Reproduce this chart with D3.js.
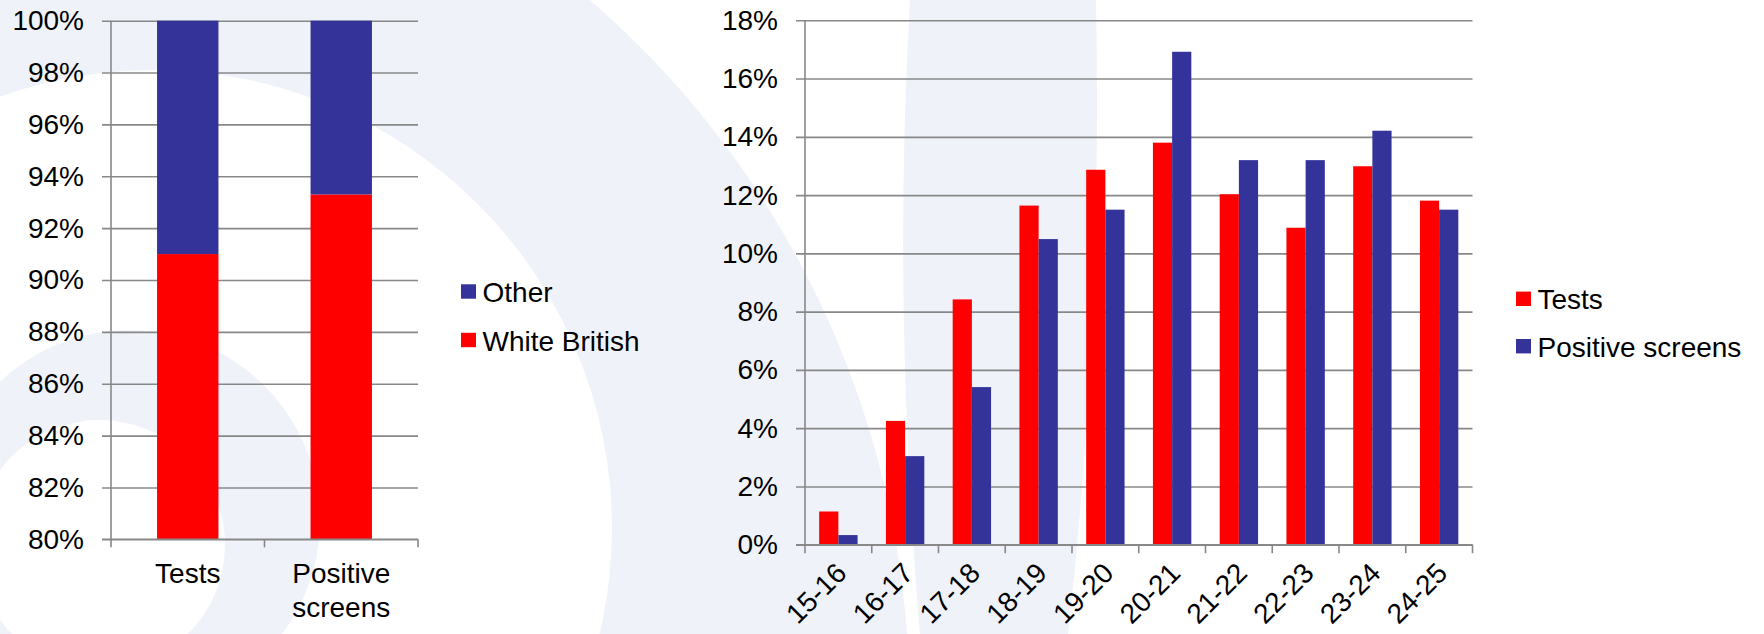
<!DOCTYPE html>
<html>
<head>
<meta charset="utf-8">
<script src="https://cdn.jsdelivr.net/npm/d3@7/dist/d3.min.js"></script>
<style>
  html, body { margin: 0; padding: 0; background: #ffffff; }
  svg { display: block; font-family: "Liberation Sans", Arial, sans-serif; }
</style>
</head>
<body>
<svg id="chart" width="1764" height="634"></svg>
<script>
// ---- Ethnicity split (stacked 100% columns) ----
const ethnicCategories = ["Tests", "Positive screens"];
const whiteBritish = [91.0, 93.3];
const otherEthnic = [9.0, 6.7];
const ethnicSeries = ["Other", "White British"];
const ethnicTicks = [80, 82, 84, 86, 88, 90, 92, 94, 96, 98, 100];

// ---- Age distribution (clustered columns) ----
const ageGroups = ["15-16", "16-17", "17-18", "18-19", "19-20", "20-21", "21-22", "22-23", "23-24", "24-25"];
const testsPct = [1.14, 4.25, 8.42, 11.64, 12.87, 13.80, 12.03, 10.88, 12.99, 11.81];
const positivePct = [0.33, 3.04, 5.41, 10.49, 11.50, 16.92, 13.20, 13.20, 14.21, 11.50];
const ageSeries = ["Tests", "Positive screens"];
const ageTicks = [0, 2, 4, 6, 8, 10, 12, 14, 16, 18];

const RED = "#ff0000";
const BLUE = "#333399";
const GRID = "#888888";
const TINT = "#eff2f9";
const FONT = 28;

const svg = d3.select("#chart");

// ---- decorative background swooshes ----
const circ = (cx, cy, r) => `M${cx - r},${cy}a${r},${r} 0 1,0 ${2 * r},0a${r},${r} 0 1,0 ${-2 * r},0Z`;
const bg = svg.append("g");
bg.append("path").attr("d", circ(-14.5, 698.5, 923.7) + circ(154, 528, 458))
  .attr("fill", TINT).attr("fill-rule", "evenodd");
bg.append("path").attr("d", circ(130, 520, 190) + circ(100, 545, 125))
  .attr("fill", TINT).attr("fill-rule", "evenodd");
bg.append("path").attr("d", "M910,0 C898,210 902,420 920,634 L1068,634 C1092,420 1100,210 1096,0 Z")
  .attr("fill", TINT);

// helper: legend block
function legend(x, y0, step, items) {
  const g = svg.append("g").attr("transform", `translate(${x},${y0})`);
  const row = g.selectAll("g").data(items).join("g")
    .attr("transform", (d, i) => `translate(0,${i * step})`);
  row.append("rect").attr("x", 0).attr("y", -17.7).attr("width", 15).attr("height", 14.4)
    .attr("fill", d => d.color);
  row.append("text").attr("x", 21.5).attr("y", 0).attr("font-size", FONT).attr("fill", "#000")
    .text(d => d.name);
}

// =================== LEFT CHART ===================
{
  const x0 = 111, x1 = 418, yTop = 20.7, yBot = 539.3;
  const x = d3.scaleBand().domain(ethnicCategories).range([x0, x1]).paddingInner(0.6).paddingOuter(0.3);
  const y = d3.scaleLinear().domain([80, 100]).range([yBot, yTop]);

  // gridlines + tick labels
  const yAxis = d3.axisLeft(y).tickValues(ethnicTicks).tickFormat(d => d + "%")
    .tickSizeInner(-(x1 - x0 + 9)).tickSizeOuter(0).tickPadding(18);
  const ga = svg.append("g").attr("transform", `translate(${x0 - 9},0)`).call(yAxis);
  ga.select(".domain").remove();
  ga.selectAll("line").attr("stroke", GRID).attr("stroke-width", 1.6);
  ga.selectAll("text").attr("font-size", FONT).attr("fill", "#000")
    .attr("font-family", "Liberation Sans, Arial, sans-serif");

  // stacked bars
  const rows = ethnicCategories.map((c, i) => ({ cat: c, wb: whiteBritish[i], other: otherEthnic[i] }));
  const bars = svg.append("g");
  bars.selectAll("rect.wb").data(rows).join("rect").attr("class", "wb")
    .attr("x", d => x(d.cat)).attr("width", x.bandwidth())
    .attr("y", d => y(d.wb)).attr("height", d => y(80) - y(d.wb)).attr("fill", RED);
  bars.selectAll("rect.ot").data(rows).join("rect").attr("class", "ot")
    .attr("x", d => x(d.cat)).attr("width", x.bandwidth())
    .attr("y", d => y(d.wb + d.other)).attr("height", d => y(d.wb) - y(d.wb + d.other)).attr("fill", BLUE);

  // axis lines and category boundary ticks
  const ax = svg.append("g").attr("stroke", GRID).attr("stroke-width", 1.6);
  ax.append("line").attr("x1", x0).attr("x2", x0).attr("y1", yTop).attr("y2", yBot);
  ax.append("line").attr("x1", x0 - 9).attr("x2", x1).attr("y1", yBot).attr("y2", yBot);
  ax.selectAll("line.tk").data(d3.range(ethnicCategories.length + 1).map(i => x0 + i * x.step()))
    .join("line").attr("class", "tk")
    .attr("x1", d => d).attr("x2", d => d).attr("y1", yBot).attr("y2", yBot + 8);

  // category labels (wrapped)
  const xl = svg.append("g").attr("font-size", FONT).attr("text-anchor", "middle").attr("fill", "#000");
  ethnicCategories.forEach(c => {
    const cx = x(c) + x.bandwidth() / 2;
    const t = xl.append("text").attr("x", cx).attr("y", 583.3);
    c.split(" ").forEach((w, i) => t.append("tspan").attr("x", cx).attr("dy", i ? 34 : 0).text(w));
  });

  legend(461, 302, 48.5, [
    { name: ethnicSeries[0], color: BLUE },
    { name: ethnicSeries[1], color: RED }
  ]);
}

// =================== RIGHT CHART ===================
{
  const x0 = 805, x1 = 1472.5, yTop = 20.3, yBot = 544.7;
  const x = d3.scaleBand().domain(ageGroups).range([x0, x1]).paddingInner(0.425).paddingOuter(0.2125);
  const xs = d3.scaleBand().domain(ageSeries).range([0, x.bandwidth()]);
  const y = d3.scaleLinear().domain([0, 18]).range([yBot, yTop]);

  const yAxis = d3.axisLeft(y).tickValues(ageTicks).tickFormat(d => d + "%")
    .tickSizeInner(-(x1 - x0 + 9)).tickSizeOuter(0).tickPadding(18);
  const ga = svg.append("g").attr("transform", `translate(${x0 - 9},0)`).call(yAxis);
  ga.select(".domain").remove();
  ga.selectAll("line").attr("stroke", GRID).attr("stroke-width", 1.6);
  ga.selectAll("text").attr("font-size", FONT).attr("fill", "#000")
    .attr("font-family", "Liberation Sans, Arial, sans-serif");

  const rows = ageGroups.map((g, i) => ({ g, vals: [testsPct[i], positivePct[i]] }));
  const colors = d3.scaleOrdinal().domain(ageSeries).range([RED, BLUE]);
  svg.append("g").selectAll("g").data(rows).join("g")
    .attr("transform", d => `translate(${x(d.g)},0)`)
    .selectAll("rect").data(d => ageSeries.map((s, j) => ({ s, v: d.vals[j] }))).join("rect")
    .attr("x", d => xs(d.s)).attr("width", xs.bandwidth())
    .attr("y", d => y(d.v)).attr("height", d => y(0) - y(d.v))
    .attr("fill", d => colors(d.s));

  const ax = svg.append("g").attr("stroke", GRID).attr("stroke-width", 1.6);
  ax.append("line").attr("x1", x0).attr("x2", x0).attr("y1", yTop).attr("y2", yBot);
  ax.append("line").attr("x1", x0 - 9).attr("x2", x1).attr("y1", yBot).attr("y2", yBot);
  ax.selectAll("line.tk").data(d3.range(ageGroups.length + 1).map(i => x0 + i * x.step())).join("line")
    .attr("class", "tk").attr("x1", d => d).attr("x2", d => d).attr("y1", yBot).attr("y2", yBot + 8.5);

  // rotated category labels
  svg.append("g").selectAll("text").data(ageGroups).join("text")
    .attr("transform", d => `translate(${x(d) + x.bandwidth() / 2 + 10},${yBot + 30}) rotate(-45)`)
    .attr("text-anchor", "end").attr("font-size", FONT).attr("fill", "#000")
    .text(d => d);

  legend(1516, 309.3, 47.4, [
    { name: ageSeries[0], color: RED },
    { name: ageSeries[1], color: BLUE }
  ]);
}
</script>
</body>
</html>
